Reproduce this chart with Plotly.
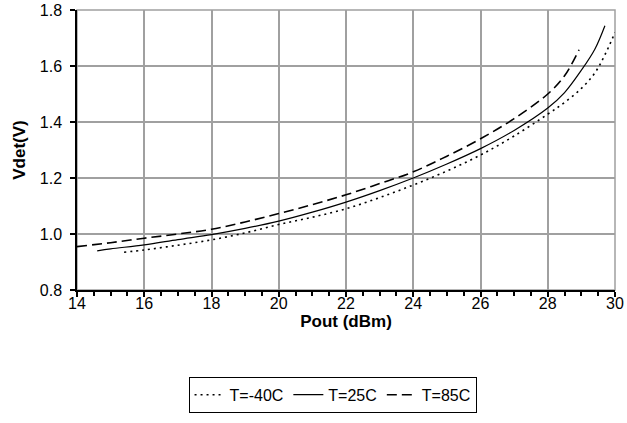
import plotly.graph_objects as go

# T=-40C (dotted)
x_m40 = [15.4, 16, 17, 18, 19, 20, 21, 22, 23, 24, 25, 26, 27, 28, 28.5, 29, 29.4, 29.7, 30]
y_m40 = [0.935, 0.943, 0.960, 0.979, 1.004, 1.034, 1.060, 1.090, 1.130, 1.175, 1.225, 1.282,
         1.350, 1.428, 1.470, 1.520, 1.575, 1.640, 1.720]

# T=25C (solid)
x_25 = [14.6, 15, 16, 17, 18, 19, 20, 21, 22, 23, 24, 25, 26, 27, 28, 28.5, 29, 29.4, 29.7]
y_25 = [0.940, 0.947, 0.961, 0.980, 0.998, 1.020, 1.046, 1.078, 1.114, 1.155, 1.200, 1.250,
        1.305, 1.370, 1.450, 1.505, 1.585, 1.660, 1.744]

# T=85C (dashed)
x_85 = [14, 15, 16, 17, 18, 19, 20, 21, 22, 23, 24, 25, 26, 27, 28, 28.5, 28.93]
y_85 = [0.955, 0.969, 0.985, 1.000, 1.017, 1.043, 1.073, 1.105, 1.140, 1.180, 1.222, 1.278,
        1.340, 1.412, 1.500, 1.565, 1.658]

x_ticks = [14, 16, 18, 20, 22, 24, 26, 28, 30]
y_ticks = [0.8, 1.0, 1.2, 1.4, 1.6, 1.8]
y_tick_text = ["0.8", "1.0", "1.2", "1.4", "1.6", "1.8"]

FONT = "Liberation Sans, Arial, sans-serif"

fig = go.Figure()
fig.add_trace(go.Scatter(x=x_m40, y=y_m40, mode="lines", name="T=-40C",
                         line=dict(color="black", width=1.6, dash="2px,4px", shape="spline")))
fig.add_trace(go.Scatter(x=x_25, y=y_25, mode="lines", name="T=25C",
                         line=dict(color="black", width=1.2, shape="spline")))
fig.add_trace(go.Scatter(x=x_85, y=y_85, mode="lines", name="T=85C",
                         line=dict(color="black", width=1.6, dash="10px,5px", shape="spline")))

fig.add_shape(type="rect", xref="paper", yref="paper", x0=0, x1=1, y0=0, y1=1,
              line=dict(color="#A0A0A0", width=1.5), layer="below")

fig.update_layout(
    width=627, height=423,
    margin=dict(l=77, r=12, t=10, b=125.5),
    paper_bgcolor="white", plot_bgcolor="white",
    font=dict(family=FONT, size=16, color="black"),
    showlegend=True,
    legend=dict(orientation="h", x=0.475, xanchor="center", y=-0.31, yanchor="top",
                bordercolor="black", borderwidth=1, itemwidth=30,
                font=dict(family=FONT, size=16), tracegroupgap=0),
    xaxis=dict(range=[14, 30], tickvals=x_ticks, showgrid=True, gridcolor="#A0A0A0", gridwidth=1.5,
               showline=True, linecolor="black", linewidth=1.5, ticks="outside", ticklen=5,
               tickcolor="black", tickwidth=1.5, zeroline=False, automargin=False,
               ticklabelstandoff=-7, ticklabeloverflow="allow",
               minor=dict(dtick=0.5, ticks="outside", ticklen=4, tickcolor="black", showgrid=False),
               title=dict(text="<b>Pout (dBm)</b>", font=dict(family=FONT, size=17), standoff=0)),
    yaxis=dict(range=[0.8, 1.8], tickvals=y_ticks, ticktext=y_tick_text, showgrid=True,
               gridcolor="#A0A0A0", gridwidth=1.5, showline=True, linecolor="black", linewidth=1.5,
               ticks="outside", ticklen=5, tickcolor="black", tickwidth=1.5, zeroline=False,
               automargin=False, ticklabelstandoff=5, ticklabeloverflow="allow",
               title=dict(text="<b>Vdet(V)</b>", font=dict(family=FONT, size=17), standoff=10)),
)

fig.write_html("out.html", config={"displayModeBar": False},
               post_script="document.body.style.margin='0';")
